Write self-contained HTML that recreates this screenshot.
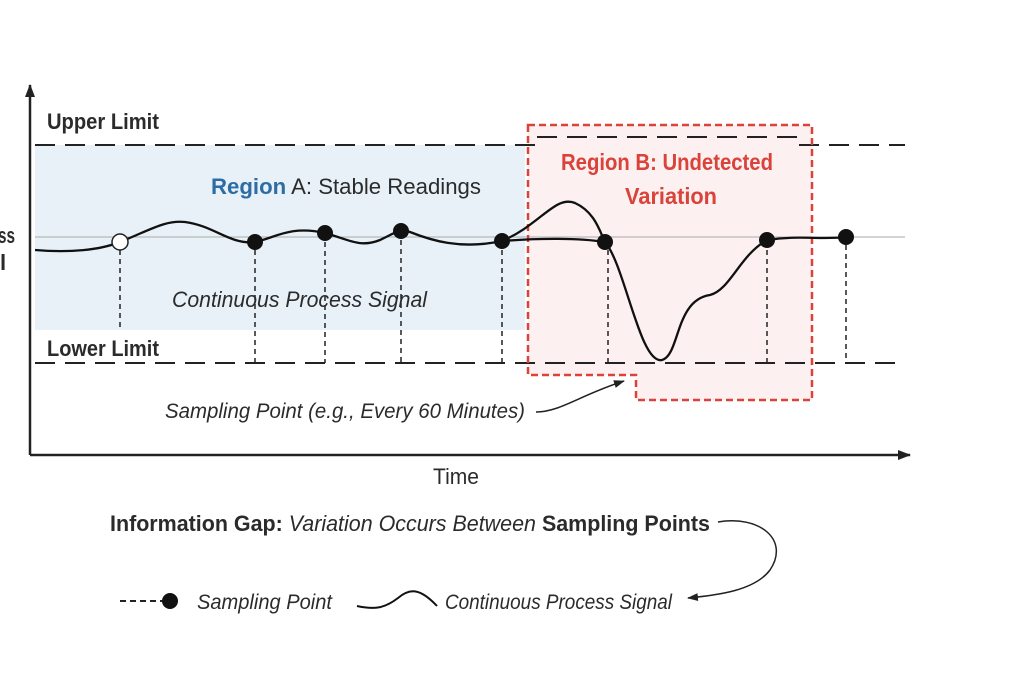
<!DOCTYPE html>
<html><head><meta charset="utf-8"><style>html,body{margin:0;padding:0;background:#fff}svg{display:block}text{font-family:"Liberation Sans",sans-serif;fill:#2b2b2b}</style></head>
<body>
<svg width="1024" height="683" viewBox="0 0 1024 683" xmlns="http://www.w3.org/2000/svg">
<defs><marker id="ah" markerUnits="userSpaceOnUse" markerWidth="14" markerHeight="14" refX="12" refY="7" orient="auto"><path d="M0,2 L13,7 L0,12 z" fill="#222"/></marker>
<marker id="sa" markerUnits="userSpaceOnUse" markerWidth="12" markerHeight="12" refX="10" refY="6" orient="auto"><path d="M0,2 L11,6 L0,10 z" fill="#222"/></marker></defs>
<rect x="35" y="145" width="490" height="185" fill="#e8f1f8"/>
<path d="M528,125 H812 V400 H636 V375 H528 Z" fill="#fdf0f0"/>
<line x1="35" y1="237" x2="905" y2="237" stroke="#aaa" stroke-width="1"/>
<path d="M35,145 H538 V137 H800 V145 H905" fill="none" stroke="#222" stroke-width="2" stroke-dasharray="20,10"/>
<line x1="35" y1="363" x2="905" y2="363" stroke="#222" stroke-width="2" stroke-dasharray="20,10"/>
<path d="M528,125 H812 V400 H636 V375 H528 Z" fill="none" stroke="#d9433a" stroke-width="2.5" stroke-dasharray="7,4"/>
<g stroke="#222" stroke-width="1.5" stroke-dasharray="5,4">
<line x1="120" y1="250" x2="120" y2="330"/><line x1="255" y1="250" x2="255" y2="363"/><line x1="325" y1="242" x2="325" y2="363"/><line x1="401" y1="240" x2="401" y2="363"/><line x1="502" y1="250" x2="502" y2="363"/><line x1="608" y1="250" x2="608" y2="363"/><line x1="767" y1="250" x2="767" y2="363"/><line x1="846" y1="245" x2="846" y2="363"/></g>
<line x1="30" y1="455" x2="30" y2="85" stroke="#222" stroke-width="2.5" marker-end="url(#ah)"/>
<line x1="30" y1="455" x2="910" y2="455" stroke="#222" stroke-width="2.5" marker-end="url(#ah)"/>
<path d="M35,250 C70,253 100,250 120,242 C150,230 165,220 185,222 C215,226 230,245 255,242 C275,238 290,225 325,233 C350,240 360,248 380,240 C395,233 400,228 410,232 C430,240 460,250 502,241 C540,225 555,195 575,203 C595,212 600,232 605,242 C625,265 640,365 662,360 C680,355 675,300 710,295 C730,290 740,255 767,240 C800,235 820,240 846,237" fill="none" stroke="#111" stroke-width="2.3"/>
<path d="M502,241 C540,238 580,238 605,242" fill="none" stroke="#111" stroke-width="2.3"/>
<circle cx="120" cy="242" r="8" fill="#fff" stroke="#222" stroke-width="1.5"/>
<g fill="#111"><circle cx="255" cy="242" r="8"/><circle cx="325" cy="233" r="8"/><circle cx="401" cy="231" r="8"/><circle cx="502" cy="241" r="8"/><circle cx="605" cy="242" r="8"/><circle cx="767" cy="240" r="8"/><circle cx="846" cy="237" r="8"/></g>
<text x="47" y="129" font-size="22" font-weight="bold" textLength="112" lengthAdjust="spacingAndGlyphs">Upper Limit</text>
<text x="47" y="356" font-size="22" font-weight="bold" textLength="112" lengthAdjust="spacingAndGlyphs">Lower Limit</text>
<text x="-2" y="243" font-size="22" font-weight="bold" textLength="17" lengthAdjust="spacingAndGlyphs">ss</text>
<text x="0" y="270" font-size="22" font-weight="bold">l</text>
<text x="211" y="194" font-size="22" textLength="270" lengthAdjust="spacingAndGlyphs"><tspan font-weight="bold" style="fill:#2e6da4">Region</tspan> A: Stable Readings</text>
<text x="667" y="170" font-size="23" font-weight="bold" text-anchor="middle" style="fill:#d9433a" textLength="212" lengthAdjust="spacingAndGlyphs">Region B: Undetected</text>
<text x="671" y="204" font-size="23" font-weight="bold" text-anchor="middle" style="fill:#d9433a" textLength="92" lengthAdjust="spacingAndGlyphs">Variation</text>
<text x="172" y="307" font-size="22" font-style="italic" textLength="255" lengthAdjust="spacingAndGlyphs">Continuous Process Signal</text>
<text x="165" y="418" font-size="21" font-style="italic" textLength="360" lengthAdjust="spacingAndGlyphs">Sampling Point (e.g., Every 60 Minutes)</text>
<path d="M536,412 C560,412 580,395 624,381" fill="none" stroke="#222" stroke-width="1.5" marker-end="url(#sa)"/>
<text x="433" y="484" font-size="22" textLength="46" lengthAdjust="spacingAndGlyphs">Time</text>
<text x="110" y="531" font-size="22" textLength="600" lengthAdjust="spacingAndGlyphs"><tspan font-weight="bold">Information Gap:</tspan> <tspan font-style="italic">Variation Occurs Between</tspan> <tspan font-weight="bold">Sampling Points</tspan></text>
<path d="M718,522 C760,515 790,540 770,570 C755,590 720,595 688,598" fill="none" stroke="#222" stroke-width="1.5" marker-end="url(#sa)"/>
<line x1="120" y1="601" x2="164" y2="601" stroke="#222" stroke-width="2" stroke-dasharray="6,4"/>
<circle cx="170" cy="601" r="8" fill="#111"/>
<text x="197" y="609" font-size="21" font-style="italic" textLength="135" lengthAdjust="spacingAndGlyphs">Sampling Point</text>
<path d="M357,606 C375,610 385,608 398,598 C410,588 420,588 437,606" fill="none" stroke="#111" stroke-width="2"/>
<text x="445" y="609" font-size="21" font-style="italic" textLength="227" lengthAdjust="spacingAndGlyphs">Continuous Process Signal</text>
</svg>
</body></html>
